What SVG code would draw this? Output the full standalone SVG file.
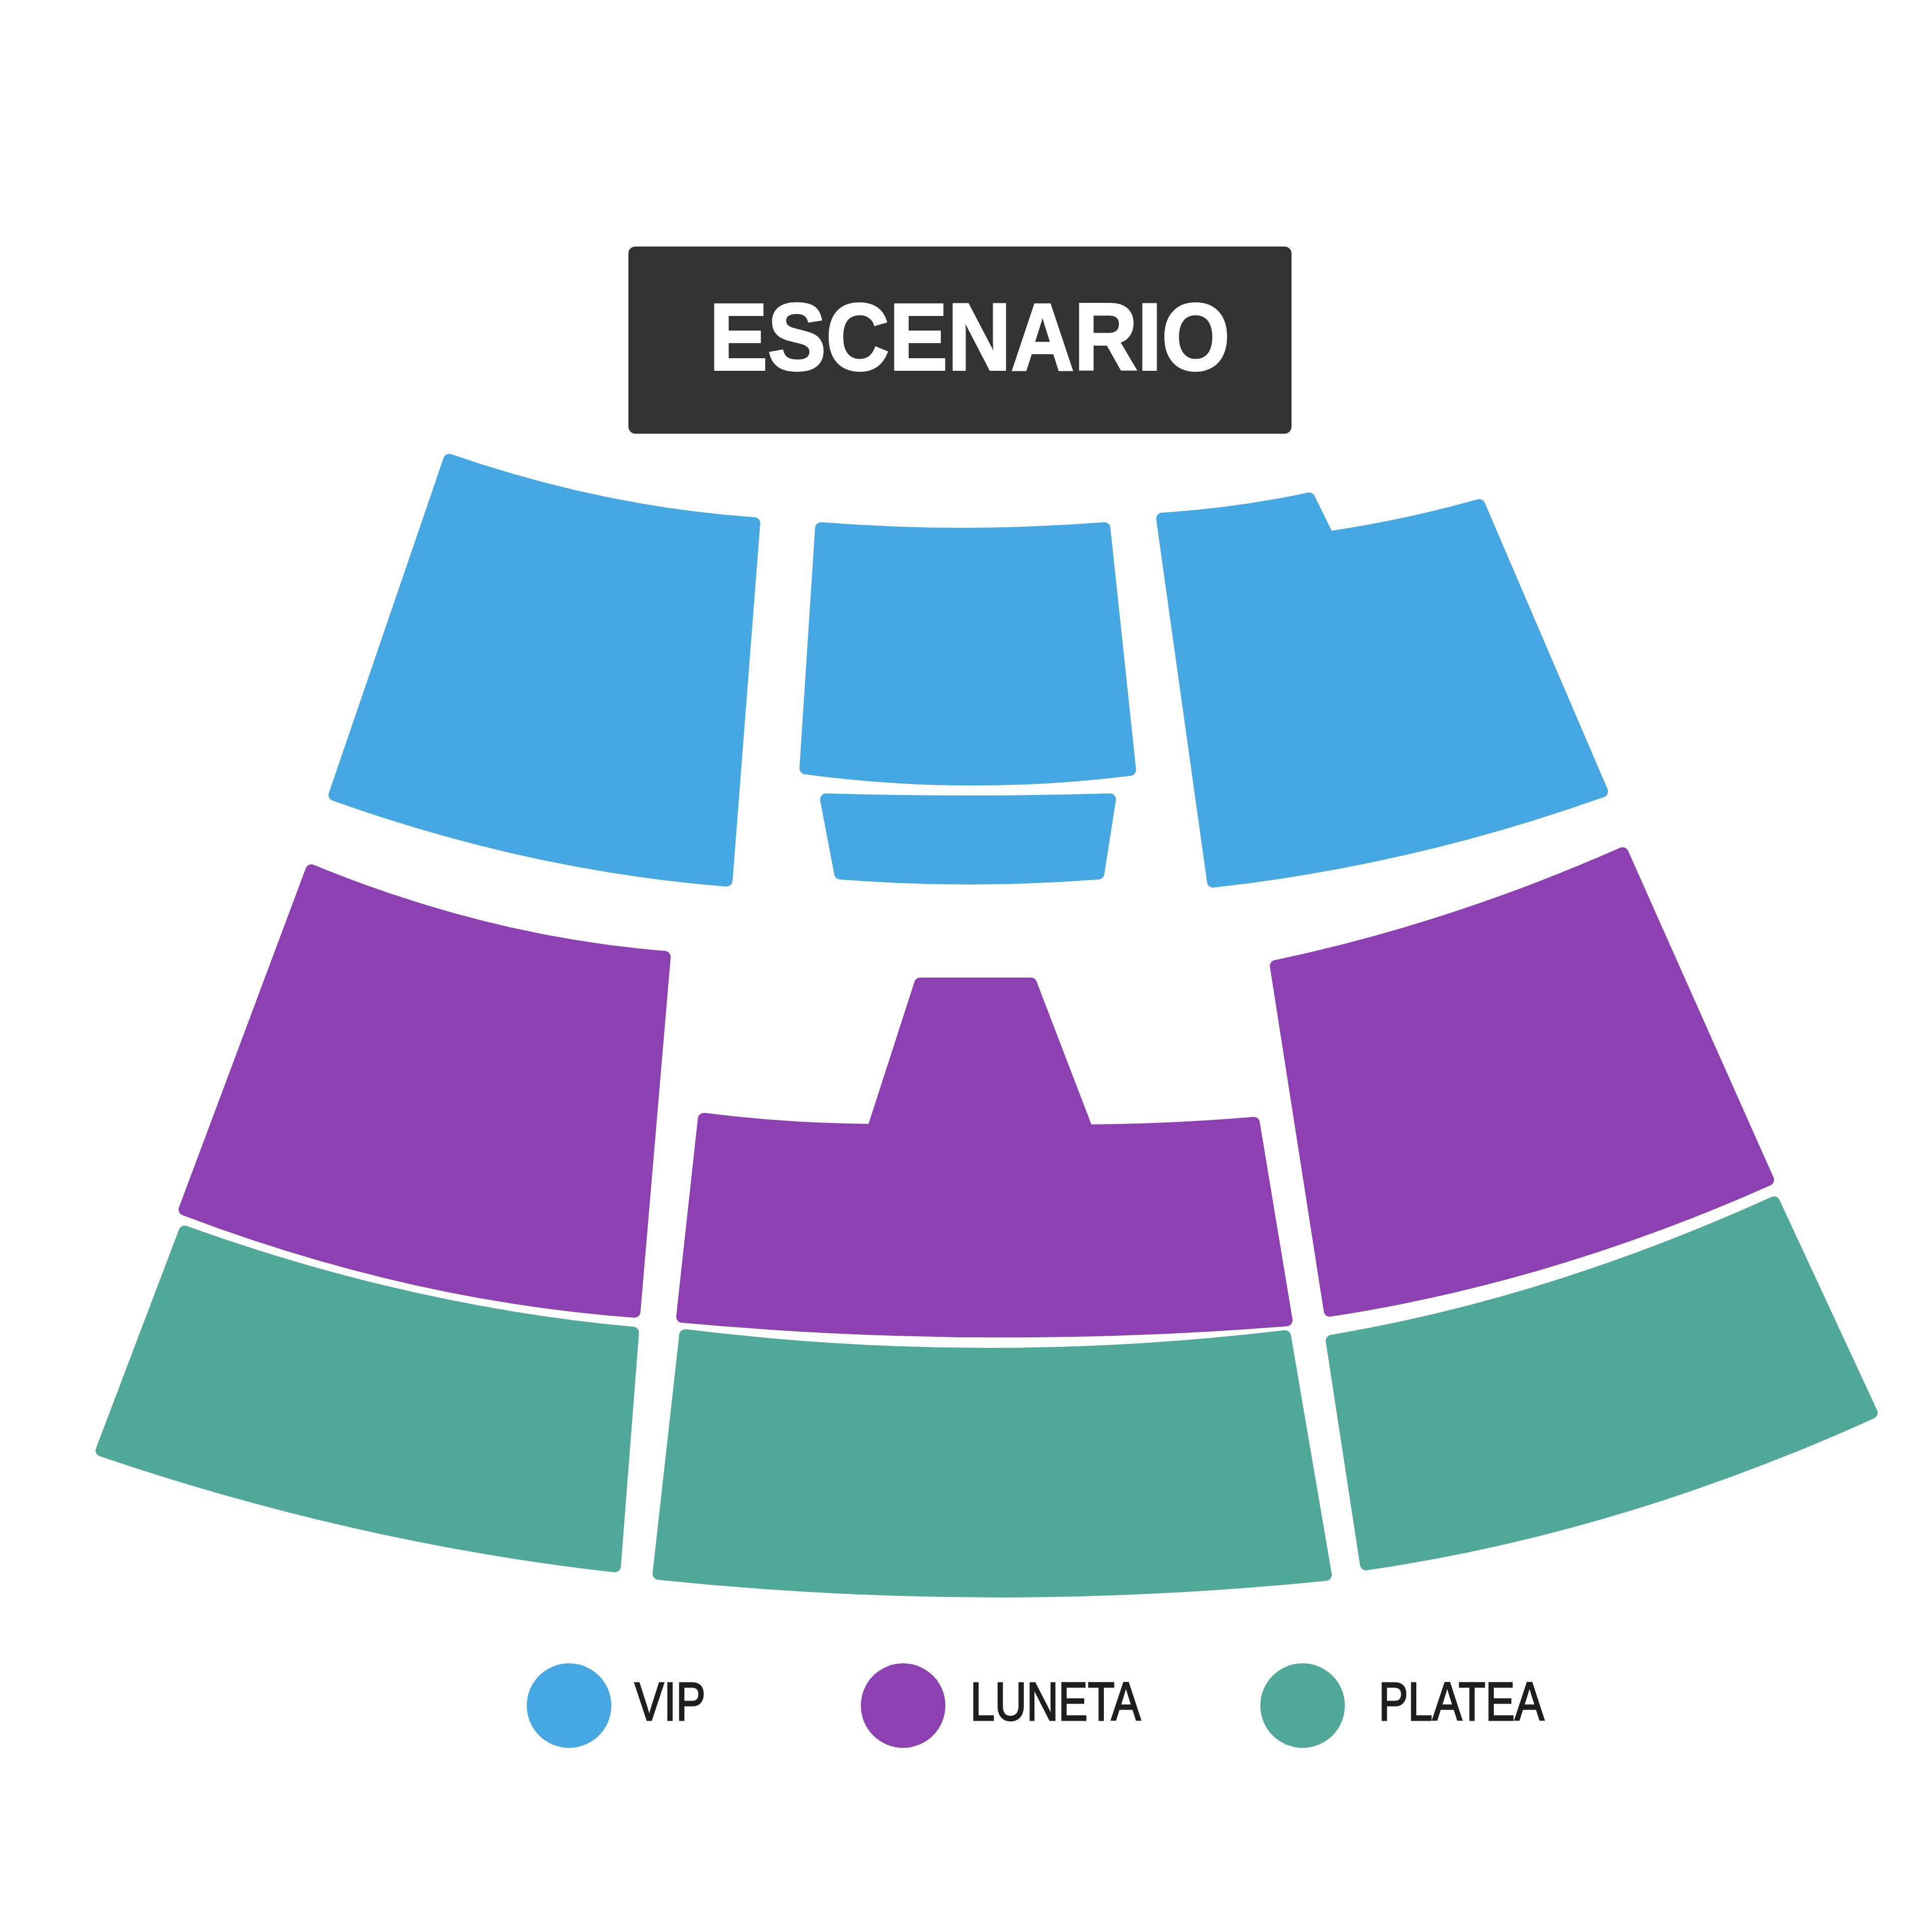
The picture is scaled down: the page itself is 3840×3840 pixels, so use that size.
<svg xmlns="http://www.w3.org/2000/svg" width="3840" height="3840" viewBox="0 0 3840 3840">
<style>
.vip{fill:#46A8E2;stroke:#46A8E2}
.lun{fill:#8C40B2;stroke:#8C40B2}
.pla{fill:#50A899;stroke:#50A899}
.sec{stroke-width:24;stroke-linejoin:round}
.leg{font-family:"Liberation Sans",Arial,sans-serif;font-size:108px;fill:#1e1e1e;stroke:#1e1e1e;stroke-width:3}
</style>
<rect width="3840" height="3840" fill="#ffffff"/>
<g id="escenario">
<rect x="1249" y="490" width="1318" height="372" rx="14" fill="#333333"/>
<text transform="scale(0.916,1)" x="1539" y="735" font-family="'Liberation Sans',Arial,sans-serif" font-weight="bold" font-size="190" fill="#ffffff" stroke="#ffffff" stroke-width="4">ESCENARIO</text>
</g>
<g id="vip-izq"><path class="vip sec" d="M893,914 Q1196,1019 1499,1040 L1444,1750 Q1054,1719 665,1580 Z"/></g>
<g id="vip-centro"><path class="vip sec" d="M1632,1050 Q1913,1072 2195,1050 L2246,1530 Q1923,1570 1601,1527 Z"/></g>
<g id="vip-centro-b"><path class="vip sec" d="M1642,1589 Q1924,1597 2206,1589 L2183,1736 Q1926,1756 1670,1736 Z"/></g>
<g id="vip-der"><path class="vip sec" d="M2310,1031 Q2456,1022 2602,991 L2640,1068 Q2791,1046 2940,1004 L3184,1573 Q2797,1710 2411,1752 Z"/></g>
<g id="luneta-izq"><path class="lun sec" d="M619,1730 Q970,1874 1321,1902 L1261,2607 Q814,2574 367,2404 Z"/></g>
<g id="luneta-centro"><path class="lun sec" d="M1829,1955 L2049,1955 L2161,2247 Q2326,2246 2492,2232 L2557,2624 Q1956,2672 1356,2617 L1399,2224 Q1567,2245 1735,2246 Z"/></g>
<g id="luneta-der"><path class="lun sec" d="M2536,1920 Q2880,1848 3225,1696 L3514,2345 Q3080,2538 2643,2605 Z"/></g>
<g id="platea-izq"><path class="pla sec" d="M367,2448 Q811,2608 1258,2649 L1222,3113 Q712,3056 202,2883 Z"/></g>
<g id="platea-centro"><path class="pla sec" d="M1362,2654 Q1958,2727 2554,2656 L2635,3130 Q1972,3197 1309,3128 Z"/></g>
<g id="platea-der"><path class="pla sec" d="M2647,2665 Q3083,2591 3526,2390 L3720,2808 Q3217,3036 2715,3109 Z"/></g>
<g id="connectors"></g>
<g id="leyenda">
<g id="leg-vip"><circle cx="1131" cy="3390" r="84" fill="#46A8E2"/><text class="leg" transform="scale(0.81,1)" x="1557" y="3419">VIP</text></g>
<g id="leg-luneta"><circle cx="1795" cy="3390" r="84" fill="#8C40B2"/><text class="leg" transform="scale(0.81,1)" x="2381" y="3419">LUNETA</text></g>
<g id="leg-platea"><circle cx="2589" cy="3390" r="84" fill="#50A899"/><text class="leg" transform="scale(0.81,1)" x="3383" y="3419">PLATEA</text></g>
</g>
</svg>
